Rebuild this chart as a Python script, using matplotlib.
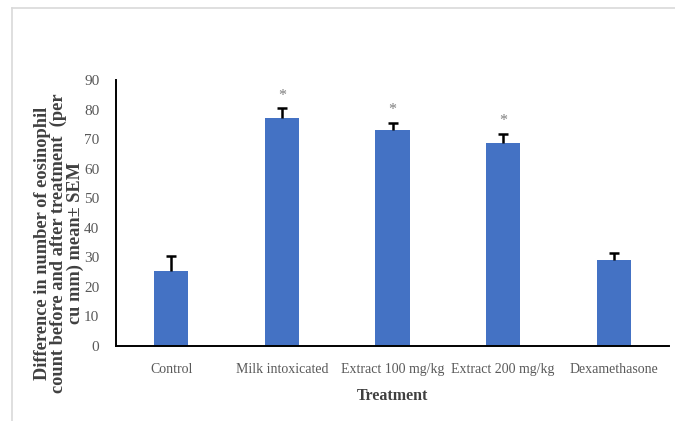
import matplotlib
matplotlib.use("Agg")
import matplotlib.pyplot as plt
from matplotlib.lines import Line2D

categories = ["Control", "Milk intoxicated", "Extract 100 mg/kg", "Extract 200 mg/kg", "Dexamethasone"]
means = [25.5, 77.0, 73.0, 68.8, 29.0]
sem = [5.0, 3.4, 2.4, 3.0, 2.4]
significant = [False, True, True, True, False]
yticks = [0, 10, 20, 30, 40, 50, 60, 70, 80, 90]

plt.rcParams['font.family'] = ['Liberation Serif', 'DejaVu Serif']

W, H = 675, 421
fig = plt.figure(figsize=(W / 100, H / 100), dpi=100)
ax = fig.add_axes([116 / W, 1 - 346 / H, (669 - 116) / W, (346 - 80) / H])

x = list(range(len(categories)))
ax.bar(x, means, width=0.31, color="#4472C4", zorder=2)
eb = ax.errorbar(x, means, yerr=[[0] * len(sem), sem], fmt="none", ecolor="black",
                 elinewidth=1.8, capsize=3.5, capthick=1.8, zorder=3)
# show only the upper caps
eb[1][0].set_visible(False)
for xi, m, s, sig in zip(x, means, sem, significant):
    if sig:
        ax.text(xi, m + s + 1.6, "*", ha="center", va="bottom", color="#7f7f7f", fontsize=11.5)

ax.set_xlim(-0.5, len(categories) - 0.5)
ax.set_ylim(0, 90)
ax.set_yticks(yticks)
ax.set_xticks(x)
ax.set_xticklabels(categories)
ax.tick_params(axis="both", length=0, labelcolor="#595959")
ax.tick_params(axis="x", pad=12, labelsize=10)
ax.tick_params(axis="y", pad=12, labelsize=11)
for side in ["top", "right"]:
    ax.spines[side].set_visible(False)
for side in ["left", "bottom"]:
    ax.spines[side].set_linewidth(1.4)
    ax.spines[side].set_color("black")

ax.set_xlabel("Treatment", fontsize=11.5, fontweight="bold", color="#404040", labelpad=9)

ylab = "Difference in number of eosinophil\ncount before and after treatment  (per\ncu mm) mean\u00b1 SEM"
fig.text(59 / W, 1 - 243 / H, ylab, rotation=90, ha="center", va="center",
         fontsize=13.2, fontweight="bold", color="#404040", linespacing=0.95,
         multialignment="center")

# outer frame (left and top edges visible)
fig.add_artist(Line2D([12 / W, 12 / W], [0, 1 - 8 / H], transform=fig.transFigure,
                      color="#d9d9d9", lw=1.2))
fig.add_artist(Line2D([12 / W, 1], [1 - 8 / H, 1 - 8 / H], transform=fig.transFigure,
                      color="#d9d9d9", lw=1.2))

fig.savefig("out.png", dpi=100)
